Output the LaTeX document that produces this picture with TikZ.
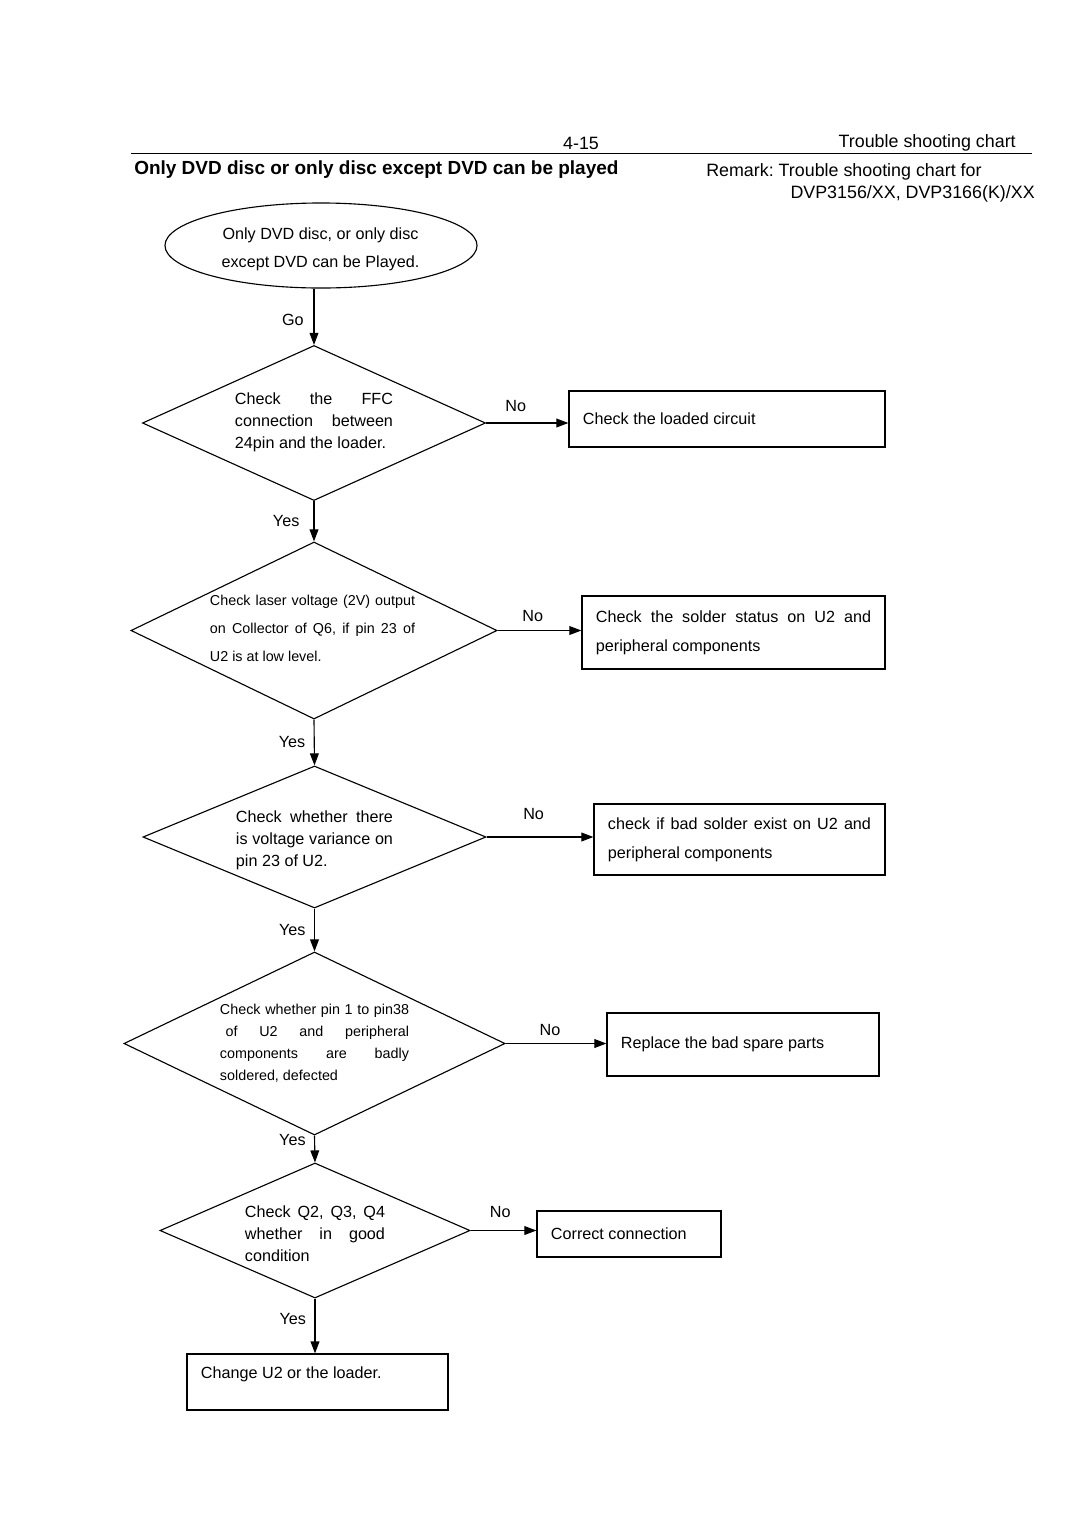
\documentclass[tikz,border=0pt]{standalone}
\usepackage{fontspec}
\setmainfont{Liberation Sans}
\usetikzlibrary{positioning,arrows.meta,shapes.geometric}
\hyphenpenalty=10000
\exhyphenpenalty=10000
\frenchspacing
\tikzset{
  >={Triangle[length=3mm,width=2.2mm]},
  dia/.style={draw, shape=diamond, line width=0.8pt, inner sep=0pt},
  box/.style={draw, line width=0.8pt, inner xsep=0.35cm, inner ysep=0pt, align=justify,
              font=\fontsize{11.5}{20.5}\selectfont},
  dtxt/.style={align=justify, inner sep=0pt, font=\fontsize{11.5}{15.6}\selectfont},
  dsml/.style={align=justify, inner sep=0pt},
  lbl/.style={font=\fontsize{11.5}{13}\selectfont, inner sep=1pt},
  hdr/.style={font=\fontsize{12.7}{15}\selectfont, inner sep=0pt},
  l/.style={->, line width=0.8pt},
}

\begin{document}
\begin{tikzpicture}[x=0.025cm, y=-0.025cm]
  \useasboundingbox (0,0) rectangle (1080,1528);

  % page header
  \node[hdr] (pg) at (581,143) {4-15};
  \node[hdr, anchor=east] (hd) at (1016,143) {Trouble shooting chart};
  \draw[line width=0.6pt] (131,153) -- (1032,153);
  \node[font=\fontsize{13.5}{16}\selectfont\bfseries, inner sep=0pt, anchor=west] (tt) at (134,170)
    {Only DVD disc or only disc except DVD can be played};
  \node[hdr, anchor=west] (rm) at (706,172) {Remark: Trouble shooting chart for};
  \node[hdr, anchor=east] (md) at (1035,194) {DVP3156/XX, DVP3166(K)/XX};

  % start
  \node[draw, ellipse, line width=0.8pt, minimum width=7.8cm, minimum height=2.125cm, inner sep=0pt] (st) at (321,245.5) {};
  \node[align=center, inner sep=0pt, font=\fontsize{11.5}{19.9}\selectfont] (stt) at (320.5,249)
    {Only DVD disc, or only disc\\except DVD can be Played.};

  % decisions
  \node[dia, minimum width=8.575cm, minimum height=3.875cm] (d1) at (314,423) {};
  \node[dtxt, text width=3.95cm] (t1) at (314,422)
    {Check the FFC\linebreak connection between\linebreak 24pin and the loader.};
  \node[dia, minimum width=9.15cm, minimum height=4.425cm] (d2) at (314,630.5) {};
  \node[dsml, text width=5.125cm, font=\fontsize{10.2}{19.9}\selectfont] (t2) at (312.5,628)
    {Check laser voltage (2V) output\linebreak on Collector of Q6, if pin 23 of\linebreak U2 is at low level.};
  \node[dia, minimum width=8.575cm, minimum height=3.55cm] (d3) at (314.5,837) {};
  \node[dtxt, text width=3.925cm] (t3) at (314.5,840)
    {Check whether there\linebreak is voltage variance on\linebreak pin 23 of U2.};
  \node[dia, minimum width=9.525cm, minimum height=4.575cm] (d4) at (314.5,1043.5) {};
  \node[dsml, text width=4.725cm, font=\fontsize{10.2}{15.6}\selectfont] (t4) at (314.5,1043.5)
    {Check whether pin 1 to pin38\linebreak \hspace*{4pt}of U2 and peripheral\linebreak components are badly\linebreak soldered, defected};
  \node[dia, minimum width=7.75cm, minimum height=3.375cm] (d5) at (315,1230.5) {};
  \node[dtxt, text width=3.5cm] (t5) at (315,1234)
    {Check Q2, Q3, Q4\linebreak whether in good\linebreak condition};

  % actions
  \node[box, text width=7.2cm, minimum height=1.4cm] (b1) at (727,419) {Check the loaded circuit};
  \node[box, text width=6.875cm, minimum height=1.825cm] (b2) at (733.5,632.5)
    {Check the solder status on U2 and peripheral components};
  \node[box, text width=6.575cm, minimum height=1.775cm] (b3) at (739.5,839.5)
    {check if bad solder exist on U2 and peripheral components};
  \node[box, text width=6.1cm, minimum height=1.575cm] (b4) at (743,1044.5) {Replace the bad spare parts};
  \node[box, text width=3.9cm, minimum height=1.15cm] (b5) at (629,1234) {Correct connection};
  \node[box, text width=5.825cm, minimum height=1.4cm, text depth=14pt] (b6) at (317.5,1382) {Change U2 or the loader.};

  % flow
  \draw[l] (st.south -| d1.north) -- (d1.north) node[lbl, left=6pt, pos=0.55]{Go};
  \draw[l] (d1.south) -- (d2.north) node[lbl, left=9pt, pos=0.49]{Yes};
  \draw[l] (d2.south) -- (d3.north) node[lbl, left=5pt, pos=0.48]{Yes};
  \draw[l] (d3.south) -- (d4.north) node[lbl, left=5pt, pos=0.49]{Yes};
  \draw[l] (d4.south) -- (d5.north) node[lbl, left=5pt, pos=0.18]{Yes};
  \draw[l] (d5.south) -- (d5.south |- b6.north) node[lbl, left=5pt, pos=0.38]{Yes};

  \draw[l] (d1.east) -- (d1.east -| b1.west) node[lbl, above=7pt, pos=0.36]{No};
  \draw[l] (d2.east) -- (d2.east -| b2.west) node[lbl, above=5pt, pos=0.42]{No};
  \draw[l] (d3.east) -- (d3.east -| b3.west) node[lbl, above=11pt, pos=0.44]{No};
  \draw[l] (d4.east) -- (d4.east -| b4.west) node[lbl, above=4pt, pos=0.44]{No};
  \draw[l] (d5.east) -- (d5.east -| b5.west) node[lbl, above=8pt, pos=0.45]{No};
\end{tikzpicture}
\end{document}
